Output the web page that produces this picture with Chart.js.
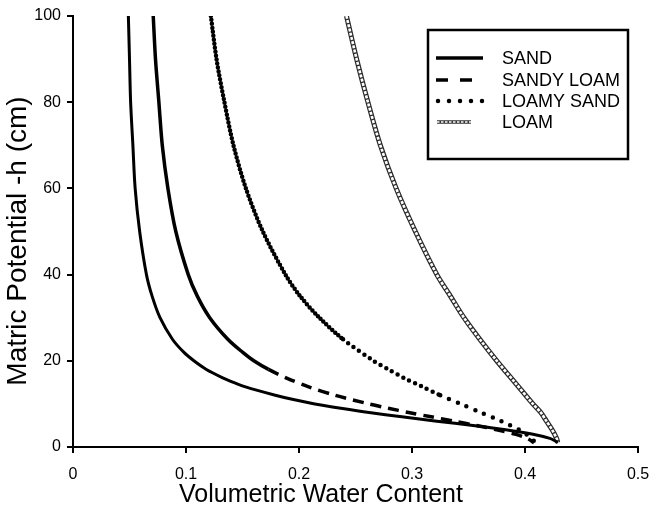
<!DOCTYPE html>
<html>
<head>
<meta charset="utf-8">
<script src="https://cdn.jsdelivr.net/npm/chart.js@4/dist/chart.umd.min.js"></script>
<style>
  html, body { margin: 0; padding: 0; background: #fff; }
  #wrap { width: 652px; height: 507px; }
</style>
</head>
<body>
<div id="wrap"><canvas id="chart" width="652" height="507"></canvas></div>
<script>
// soil water retention curves
var sandH = [100, 90, 80, 70, 60, 50, 40, 35, 30, 25, 22, 20, 18, 16, 15, 14, 12, 11, 10, 9, 8, 7, 6, 5, 4, 3, 2, 1.5, 1];
var sandTheta = [0.049, 0.050, 0.051, 0.053, 0.055, 0.059, 0.065, 0.070, 0.077, 0.088, 0.098, 0.107, 0.118, 0.133, 0.142, 0.152, 0.179, 0.195, 0.214, 0.237, 0.262, 0.291, 0.322, 0.354, 0.383, 0.406, 0.422, 0.426, 0.429];

var sandyLoamH = [100, 90, 80, 70, 60, 50, 40, 35, 30, 25, 22, 20, 18, 16, 14, 12, 10, 9, 8, 7, 6, 5, 4, 3, 2, 1];
var sandyLoamTheta = [0.071, 0.073, 0.076, 0.079, 0.084, 0.091, 0.102, 0.110, 0.121, 0.137, 0.150, 0.160, 0.173, 0.189, 0.208, 0.232, 0.262, 0.279, 0.297, 0.317, 0.337, 0.357, 0.375, 0.391, 0.402, 0.408];

var loamySandH = [100, 90, 80, 70, 60, 50, 40, 35, 30, 25, 20, 18, 16, 14, 12, 10, 8, 6, 5, 4, 3, 2, 1];
var loamySandTheta = [0.122, 0.127, 0.134, 0.142, 0.153, 0.168, 0.188, 0.201, 0.218, 0.239, 0.266, 0.279, 0.293, 0.309, 0.325, 0.343, 0.361, 0.379, 0.387, 0.395, 0.401, 0.406, 0.409];

var loamH = [100, 90, 80, 70, 60, 50, 40, 35, 30, 25, 20, 15, 10, 8, 6, 4, 2, 1];
var loamTheta = [0.242, 0.251, 0.261, 0.272, 0.286, 0.303, 0.322, 0.334, 0.346, 0.360, 0.375, 0.391, 0.407, 0.414, 0.419, 0.424, 0.428, 0.429];

var seriesLabels = ['SAND', 'SANDY LOAM', 'LOAMY SAND', 'LOAM'];
var xTickLabels = ['0', '0.1', '0.2', '0.3', '0.4', '0.5'];
var yTickLabels = ['0', '20', '40', '60', '80', '100'];
var xTitle = 'Volumetric Water Content';
var yTitle = 'Matric Potential -h (cm)';

function pts(xs, ys) {
  return xs.map(function (x, i) { return { x: x, y: ys[i] }; });
}

var FONT = 'Arial, "Liberation Sans", sans-serif';

// legend drawn inside a boxed frame like the original figure, plus axis titles
var boxLegend = {
  id: 'boxLegend',
  afterDraw: function (chart) {
    var ctx = chart.ctx;
    ctx.save();
    ctx.strokeStyle = '#000';
    ctx.lineWidth = 2.5;
    ctx.strokeRect(428, 30, 200, 129);

    var rows = [58, 80, 101, 122];
    ctx.font = '18px ' + FONT;
    ctx.fillStyle = '#000';
    ctx.textBaseline = 'middle';
    chart.data.datasets.forEach(function (ds) {
      if (ds.legendRow === undefined) return;
      var y = rows[ds.legendRow];
      ctx.save();
      if (ds.legendRow === 3) {
        // small chain of open circles
        ctx.lineWidth = 3.5;
        ctx.strokeStyle = '#333';
        ctx.beginPath(); ctx.moveTo(437, y); ctx.lineTo(471, y); ctx.stroke();
        ctx.setLineDash([2.5, 1.5]);
        ctx.lineWidth = 1.5;
        ctx.strokeStyle = '#fff';
        ctx.beginPath(); ctx.moveTo(437, y); ctx.lineTo(471, y); ctx.stroke();
      } else {
        ctx.strokeStyle = ds.borderColor;
        ctx.lineWidth = ds.legendRow === 2 ? 4.5 : 3.5;
        ctx.lineCap = ds.legendRow === 2 ? 'round' : 'butt';
        ctx.setLineDash(ds.legendRow === 1 ? [12, 12] : (ds.legendRow === 2 ? [0, 11] : []));
        ctx.beginPath(); ctx.moveTo(ds.legendRow === 2 ? 438 : 436, y); ctx.lineTo(483, y); ctx.stroke();
      }
      ctx.restore();
      ctx.fillText(ds.label, 502, y + 1);
    });

    // axis titles
    ctx.textAlign = 'center';
    ctx.textBaseline = 'alphabetic';
    ctx.font = '25px ' + FONT;
    ctx.fillText(xTitle, 321, 502);

    ctx.translate(26, 241);
    ctx.rotate(-Math.PI / 2);
    ctx.font = '28px ' + FONT;
    ctx.fillText(yTitle, 0, 0);
    ctx.restore();
  }
};

var ctx = document.getElementById('chart').getContext('2d');
new Chart(ctx, {
  type: 'scatter',
  data: {
    datasets: [
      {
        label: seriesLabels[0], legendRow: 0,
        data: pts(sandTheta, sandH),
        showLine: true, borderColor: '#000', borderWidth: 3,
        pointRadius: 0, tension: 0.3
      },
      {
        label: seriesLabels[1], legendRow: 1,
        data: pts(sandyLoamTheta, sandyLoamH),
        showLine: true, borderColor: '#000', borderWidth: 3.5,
        pointRadius: 0, tension: 0.3,
        segment: { borderDash: function (c) { return c.p0.parsed.y <= 18 ? [11, 7] : undefined; } }
      },
      {
        label: seriesLabels[2], legendRow: 2,
        data: pts(loamySandTheta, loamySandH),
        showLine: true, borderColor: '#000', borderWidth: 4.5,
        borderDash: [0, 4], borderCapStyle: 'round', pointRadius: 0, tension: 0.3,
        segment: {
          borderDash: function (c) {
            var h = c.p0.parsed.y;
            if (h <= 12) return [0, 9.5];
            if (h <= 25) return [0, 6.5];
            return undefined;
          }
        }
      },
      {
        // white cores of the loam chain, drawn over the dark outline below
        label: 'loam-core',
        data: pts(loamTheta, loamH),
        showLine: true, borderColor: '#fff', borderWidth: 2.6,
        borderDash: [3, 1.3], pointRadius: 0, tension: 0.3
      },
      {
        label: seriesLabels[3], legendRow: 3,
        data: pts(loamTheta, loamH),
        showLine: true, borderColor: '#2a2a2a', borderWidth: 5,
        pointRadius: 0, tension: 0.3
      }
    ]
  },
  options: {
    responsive: false,
    animation: false,
    layout: { padding: { left: 0, right: 14, top: 16, bottom: 0 } },
    plugins: {
      legend: { display: false },
      tooltip: { enabled: false }
    },
    scales: {
      x: {
        type: 'linear', min: 0, max: 0.5,
        afterFit: function (s) { s.height = 60; s.paddingLeft = 0; s.paddingRight = 0; },
        ticks: {
          stepSize: 0.1, color: '#000', padding: 12,
          font: { family: FONT, size: 16 },
          callback: function (v, i) { return xTickLabels[i]; }
        },
        grid: { drawOnChartArea: false, drawTicks: true, tickLength: 6, color: '#000', lineWidth: 2 },
        border: { display: true, color: '#000', width: 2 }
      },
      y: {
        type: 'linear', min: 0, max: 100,
        afterFit: function (s) { s.width = 73; s.paddingTop = 0; s.paddingBottom = 0; },
        ticks: {
          stepSize: 20, color: '#000', padding: 6,
          font: { family: FONT, size: 16 },
          callback: function (v, i) { return yTickLabels[i]; }
        },
        grid: { drawOnChartArea: false, drawTicks: true, tickLength: 6, color: '#000', lineWidth: 2 },
        border: { display: true, color: '#000', width: 2 }
      }
    }
  },
  plugins: [boxLegend]
});
</script>
</body>
</html>
